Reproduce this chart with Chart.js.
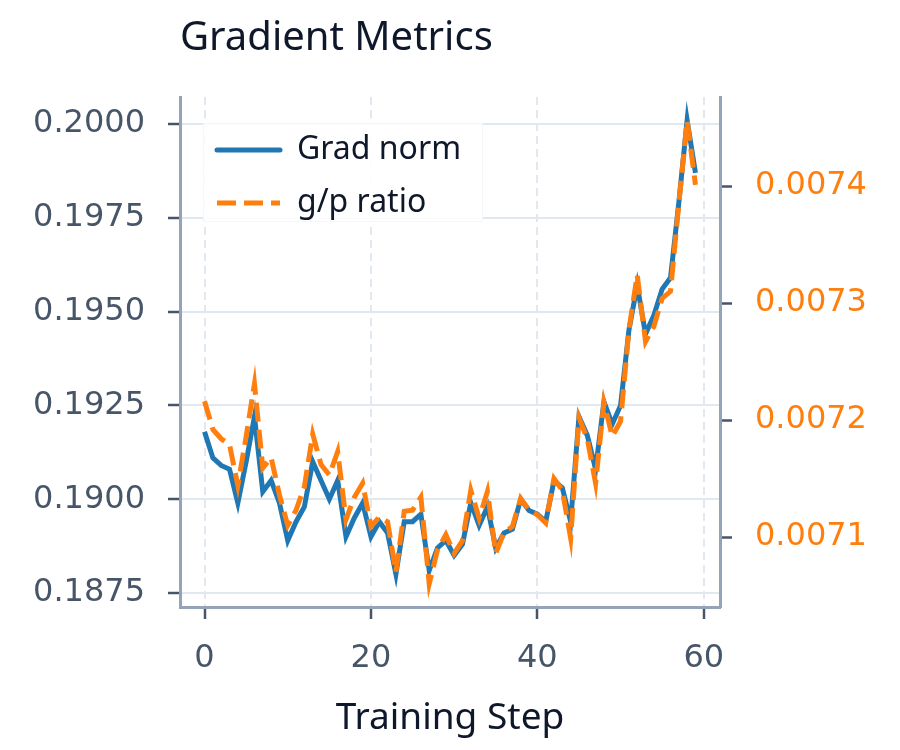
<!DOCTYPE html>
<html>
<head>
<meta charset="utf-8">
<title>Gradient Metrics</title>
<script src="https://cdn.jsdelivr.net/npm/chart.js@4.4.1/dist/chart.umd.min.js"></script>
<style>
  html, body { margin: 0; padding: 0; background: #ffffff; }
  #wrap { width: 900px; height: 750px; }
</style>
</head>
<body>
<div id="wrap"><canvas id="gradChart" width="900" height="750"></canvas></div>
<script>
// ── Data ──────────────────────────────────────────────────────────────────
const steps = [0, 1, 2, 3, 4, 5, 6, 7, 8, 9, 10, 11, 12, 13, 14, 15, 16, 17, 18, 19,
               20, 21, 22, 23, 24, 25, 26, 27, 28, 29, 30, 31, 32, 33, 34, 35, 36, 37, 38, 39,
               40, 41, 42, 43, 44, 45, 46, 47, 48, 49, 50, 51, 52, 53, 54, 55, 56, 57, 58, 59];

const gradNorm = [0.1918, 0.1911, 0.1909, 0.1908, 0.1899, 0.1910, 0.1922, 0.1902, 0.1905, 0.1899,
                  0.1889, 0.1894, 0.1898, 0.1910, 0.1905, 0.1900, 0.1905, 0.1890, 0.1895, 0.1899,
                  0.1890, 0.1894, 0.1891, 0.1880, 0.1894, 0.1894, 0.1896, 0.1881, 0.1887, 0.1889,
                  0.1885, 0.1888, 0.1899, 0.1893, 0.1898, 0.1887, 0.1891, 0.1892, 0.1900, 0.1897,
                  0.1896, 0.1894, 0.1905, 0.1903, 0.1894, 0.1922, 0.1917, 0.1908, 0.1926, 0.1920,
                  0.1925, 0.1945, 0.1957, 0.1944, 0.1949, 0.1956, 0.1959, 0.1979, 0.2001, 0.1987];

const gpRatio = [0.007216, 0.007192, 0.007184, 0.007179, 0.007144, 0.007186, 0.007231, 0.007159, 0.007168, 0.007136,
                 0.007110, 0.007123, 0.007143, 0.007188, 0.007162, 0.007153, 0.007173, 0.007115, 0.007134, 0.007146,
                 0.007109, 0.007117, 0.007113, 0.007070, 0.007122, 0.007123, 0.007134, 0.007060, 0.007089, 0.007102,
                 0.007086, 0.007097, 0.007140, 0.007116, 0.007139, 0.007086, 0.007104, 0.007109, 0.007133, 0.007123,
                 0.007119, 0.007112, 0.007150, 0.007140, 0.007099, 0.007202, 0.007184, 0.007146, 0.007215, 0.007186,
                 0.007199, 0.007277, 0.007324, 0.007267, 0.007280, 0.007304, 0.007310, 0.007385, 0.007456, 0.007401];

const xTicks      = [0, 20, 40, 60];
const yLeftTicks  = [0.1875, 0.1900, 0.1925, 0.1950, 0.1975, 0.2000];
const yRightTicks = [0.0071, 0.0072, 0.0073, 0.0074];

// ── Style ─────────────────────────────────────────────────────────────────
const BLUE   = '#1f77b4';
const ORANGE = '#ff7f0e';
const GRID   = '#e2e8f0';
const SPINE  = '#94a3b8';
const TICK   = '#475569';
const INK    = '#0f172a';
const TICK_FONT = { family: 'DejaVu Sans', size: 32 };

// Title + legend drawn on the canvas, positioned against the chart area
const overlayPlugin = {
    id: 'overlay',
    afterDraw(chart) {
        const { ctx, chartArea } = chart;
        ctx.save();
        // title
        ctx.fillStyle = INK;
        ctx.font = '40px "Noto Sans"';
        ctx.textAlign = 'left';
        ctx.textBaseline = 'middle';
        ctx.fillText('Gradient Metrics', chartArea.left, 39);

        // legend box
        const bx = chartArea.left + 23, by = chartArea.top + 26, bw = 280, bh = 99;
        ctx.fillStyle = 'rgba(255,255,255,0.9)';
        ctx.fillRect(bx, by, bw, bh);
        ctx.strokeStyle = 'rgba(226,232,240,0.35)';
        ctx.lineWidth = 1;
        ctx.strokeRect(bx + 0.5, by + 0.5, bw - 1, bh - 1);

        ctx.font = '32px "Noto Sans"';
        chart.data.datasets.forEach((ds, i) => {
            const ly = by + 27 + i * 53;
            ctx.beginPath();
            ctx.strokeStyle = ds.borderColor;
            ctx.lineWidth = 5;
            ctx.lineCap = ds.borderDash.length ? 'butt' : 'round';
            ctx.setLineDash(ds.borderDash);
            ctx.moveTo(bx + 14, ly);
            ctx.lineTo(bx + 77, ly);
            ctx.stroke();
            ctx.setLineDash([]);
            ctx.fillStyle = INK;
            ctx.fillText(ds.label, bx + 94, ly);
        });
        ctx.restore();
    }
};

const ctx = document.getElementById('gradChart').getContext('2d');
const chart = new Chart(ctx, {
    type: 'line',
    data: {
        datasets: [
            { label: 'Grad norm', data: steps.map((s, i) => ({ x: s, y: gradNorm[i] })), yAxisID: 'y',
              borderColor: BLUE, borderWidth: 5, borderDash: [], pointRadius: 0, tension: 0, order: 1 },
            { label: 'g/p ratio', data: steps.map((s, i) => ({ x: s, y: gpRatio[i] })), yAxisID: 'y2',
              borderColor: ORANGE, borderWidth: 5, borderDash: [19, 8], pointRadius: 0, tension: 0, order: 0 }
        ]
    },
    options: {
        responsive: false,
        devicePixelRatio: 1,
        animation: false,
        layout: { padding: { top: 97, left: 0, right: 0, bottom: 0 } },
        plugins: { legend: { display: false }, title: { display: false }, tooltip: { enabled: false } },
        scales: {
            x: {
                type: 'linear', min: -2.95, max: 61.95,
                afterFit: s => { s.height = 143; },
                afterBuildTicks: s => { s.ticks = xTicks.map(v => ({ value: v })); },
                grid: { color: GRID, lineWidth: 2, tickLength: 12, tickColor: TICK, tickWidth: 2.5 },
                border: { color: SPINE, width: 3, dash: [8, 5] },
                ticks: { color: TICK, font: TICK_FONT, padding: 20, maxRotation: 0, callback: v => String(v) },
                title: { display: true, text: 'Training Step', color: INK,
                         font: { family: 'Noto Sans', size: 37 }, padding: { top: 0, bottom: 9 } }
            },
            y: {
                position: 'left', min: 0.187127, max: 0.20072,
                afterFit: s => { s.width = 180; },
                afterBuildTicks: s => { s.ticks = yLeftTicks.map(v => ({ value: v })); },
                grid: { color: GRID, lineWidth: 2, tickLength: 12, tickColor: TICK, tickWidth: 2.5 },
                border: { color: SPINE, width: 3 },
                ticks: { color: TICK, font: TICK_FONT, padding: 23, callback: v => v.toFixed(4) }
            },
            y2: {
                position: 'right', min: 0.0070402, max: 0.0074761,
                afterFit: s => { s.width = 180; },
                afterBuildTicks: s => { s.ticks = yRightTicks.map(v => ({ value: v })); },
                grid: { drawOnChartArea: false, tickLength: 12, tickColor: TICK, tickWidth: 2.5 },
                border: { color: SPINE, width: 3 },
                ticks: { color: ORANGE, font: TICK_FONT, padding: 23, callback: v => v.toFixed(4) }
            }
        }
    },
    plugins: [overlayPlugin]
});
</script>
</body>
</html>
